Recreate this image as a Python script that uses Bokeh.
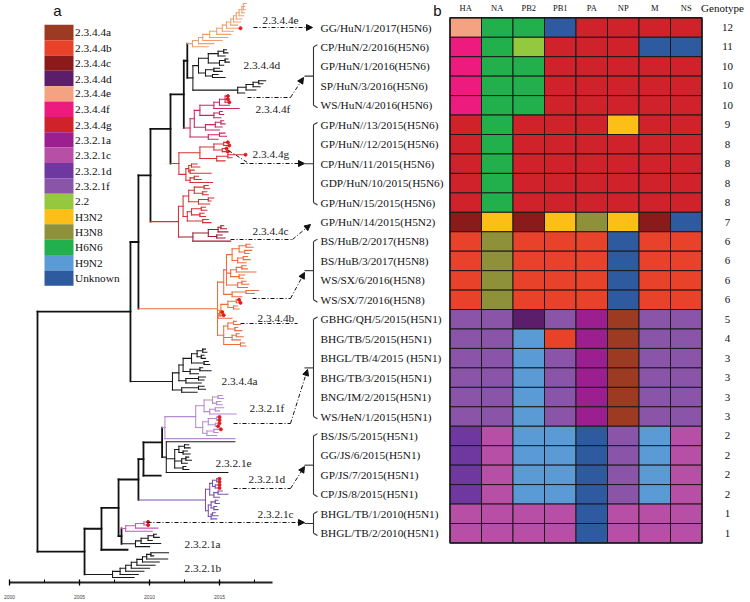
from bokeh.plotting import figure
from bokeh.models import Range1d, LinearAxis, FixedTicker, Arrow, NormalHead, ColumnDataSource
from bokeh.core.properties import value
from bokeh.embed import file_html
from bokeh.resources import INLINE

# ---------------- DATA ----------------
lineages = ["2.3.4.4a", "2.3.4.4b", "2.3.4.4c", "2.3.4.4d", "2.3.4.4e", "2.3.4.4f", "2.3.4.4g",
            "2.3.2.1a", "2.3.2.1c", "2.3.2.1d", "2.3.2.1f", "2.2", "H3N2", "H3N8", "H6N6", "H9N2", "Unknown"]
lineage_colors = ["#9c3b22", "#e8432a", "#8b1a1a", "#5c1e6b", "#f5a283", "#ec1b7d", "#d0222a",
                  "#9b1f8f", "#b84fa6", "#6f37a0", "#8a55a8", "#94c83e", "#fcbf18", "#8e903a",
                  "#21b04c", "#5b9bd5", "#2e5aa0"]

segments = ["HA", "NA", "PB2", "PB1", "PA", "NP", "M", "NS"]

strains = ["GG/HuN/1/2017(H5N6)", "CP/HuN/2/2016(H5N6)", "GP/HuN/1/2016(H5N6)", "SP/HuN/3/2016(H5N6)",
           "WS/HuN/4/2016(H5N6)", "GP/HuN//13/2015(H5N6)", "GP/HuN//12/2015(H5N6)", "CP/HuN/11/2015(H5N6)",
           "GDP/HuN/10/2015(H5N6)", "GP/HuN/15/2015(H5N6)", "GP/HuN/14/2015(H5N2)", "BS/HuB/2/2017(H5N8)",
           "BS/HuB/3/2017(H5N8)", "WS/SX/6/2016(H5N8)", "WS/SX/7/2016(H5N8)", "GBHG/QH/5/2015(H5N1)",
           "BHG/TB/5/2015(H5N1)", "BHGL/TB/4/2015 (H5N1)", "BHG/TB/3/2015(H5N1)", "BNG/IM/2/2015(H5N1)",
           "WS/HeN/1/2015(H5N1)", "BS/JS/5/2015(H5N1)", "GG/JS/6/2015(H5N1)", "GP/JS/7/2015(H5N1)",
           "CP/JS/8/2015(H5N1)", "BHGL/TB/1/2010(H5N1)", "BHGL/TB/2/2010(H5N1)"]

genotypes = [12, 11, 10, 10, 10, 9, 8, 8, 8, 8, 7, 6, 6, 6, 6, 5, 4, 3, 3, 3, 3, 2, 2, 2, 2, 1, 1]

g4a, g4b, g4c, g4d, g4e, g4f, g4g = "2.3.4.4a", "2.3.4.4b", "2.3.4.4c", "2.3.4.4d", "2.3.4.4e", "2.3.4.4f", "2.3.4.4g"
g1a, g1c, g1d, g1f = "2.3.2.1a", "2.3.2.1c", "2.3.2.1d", "2.3.2.1f"
genotype_cells = [
    [g4e, "H6N6", "H6N6", "Unknown", g4g, g4g, g4g, g4g],
    [g4f, "H6N6", "2.2", g4g, g4g, g4g, "Unknown", "Unknown"],
    [g4f, "H6N6", "H6N6", g4g, g4g, g4g, g4g, g4g],
    [g4f, "H6N6", "H6N6", g4g, g4g, g4g, g4g, g4g],
    [g4f, "H6N6", "H6N6", g4g, g4g, g4g, g4g, g4g],
    [g4g, "H6N6", g4g, g4g, g4g, "H3N2", g4g, g4g],
    [g4g, "H6N6", g4g, g4g, g4g, g4g, g4g, g4g],
    [g4g, "H6N6", g4g, g4g, g4g, g4g, g4g, g4g],
    [g4g, "H6N6", g4g, g4g, g4g, g4g, g4g, g4g],
    [g4g, "H6N6", g4g, g4g, g4g, g4g, g4g, g4g],
    [g4c, "H3N2", g4c, "H3N2", "H3N8", "H3N2", g4c, "Unknown"],
    [g4b, "H3N8", g4b, g4b, g4b, "Unknown", g4b, g4b],
    [g4b, "H3N8", g4b, g4b, g4b, "Unknown", g4b, g4b],
    [g4b, "H3N8", g4b, g4b, g4b, "Unknown", g4b, g4b],
    [g4b, "H3N8", g4b, g4b, g4b, "Unknown", g4b, g4b],
    [g1f, g1f, g4d, g1f, g1a, g4a, g1f, g1f],
    [g1f, g1f, "H9N2", g4b, g1a, g4a, g1f, g1f],
    [g1f, g1f, "H9N2", g1f, g1a, g4a, g1f, g1f],
    [g1f, g1f, "H9N2", g1f, g1a, g4a, g1f, g1f],
    [g1f, g1f, "H9N2", g1f, g1a, g4a, g1f, g1f],
    [g1f, g1f, "H9N2", g1f, g1a, g4a, g1f, g1f],
    [g1d, g1c, "H9N2", "H9N2", "Unknown", g1f, "H9N2", g1c],
    [g1d, g1c, "H9N2", "H9N2", "Unknown", g1f, "H9N2", g1c],
    [g1d, g1c, "H9N2", "H9N2", "Unknown", g1f, "H9N2", g1c],
    [g1d, g1c, "H9N2", "H9N2", "Unknown", g1f, "H9N2", g1c],
    [g1c, g1c, g1c, g1c, "Unknown", g1c, g1c, g1c],
    [g1c, g1c, g1c, g1c, "Unknown", g1c, g1c, g1c],
]

# strain groups (first row, last row) pointed to from the tree
strain_groups = [(1, 4), (5, 9), (11, 14), (15, 20), (21, 24), (25, 26)]

clade_names = ["2.3.4.4e", "2.3.4.4d", "2.3.4.4f", "2.3.4.4g", "2.3.4.4c", "2.3.4.4b", "2.3.4.4a",
               "2.3.2.1f", "2.3.2.1e", "2.3.2.1d", "2.3.2.1c", "2.3.2.1a", "2.3.2.1b"]

# Time-scaled tree: node dates as years after 2000, "*" = sequenced strain, [tag] = clade colour
T_E = ("(" * 13 + "16.9,16.8,16.85)16.7,16.8)16.6,16.7)16.4,16.6)16.2,16.5)16.0,16.3)15.8,16.5*)15.5,16.0)"
       "15.2,15.8)14.8,15.6)14.3,15.2)13.8,14.6)13.5,14.2)13.07[e]")
T_D = ("(((((15.5,15.6)15.3,15.4)14.9,((15.6,15.7)15.4,15.3)15.0)14.2,((15.0,15.2)14.6,(14.9,15.4)14.5)14.0)13.5,"
       "((((18.3,18.1)17.8,17.9)17.4,17.6)16.9,16.8)16.3)13.1[k]")
T_F = "((((((15.6*,15.6*,15.7*)15.4,15.7)15.0,16.4)14.6,((15.2,15.3)15.0,15.1)14.6)13.6,(((15.3,15.4)15.1,15.2)14.7,15.0)14.0)13.2,((15.4,15.5)15.0,14.9)14.2)12.9[f]"
T_G1 = "((((15.6*,15.7*)15.3,(15.5*,15.6*)15.2)14.6,((16.86*,15.9)15.6,15.4)14.8)13.6,(((13.4,13.6)13.0,(13.2,14.4)12.9)12.8,((13.5,13.7)13.2,14.5)12.9)12.6)12.1[g]"
T_C = "((((15.3,15.5)15.1,15.6)14.9,(15.2,15.4)14.8)14.2,15.8)13.1[c]"
T_G2 = ("(((((14.2,14.3)13.9,(14.1,14.2)13.8)13.2,((14.6,14.4)14.2,14.3)13.5)12.8,"
        "(((14.0,14.1)13.7,(13.9,14.0)13.6)13.0,(14.2,14.4)13.8)12.7)12.4," + T_C + ")12.07[g]")
T_B1 = ("(((((17.2,17.4)16.9,(17.3,17.1)16.8)16.4,((17.0,17.2)16.7,16.9)16.3)15.9,"
        "(((16.9,17.0)16.6,17.6)16.2,(16.8,16.7)16.4)15.8,((16.9,17.1)16.6,17.0)16.3)15.5,((17.8,17.5)16.9,16.6)15.9)15.3")
T_B2 = "(((16.4*,16.5*)16.2,(16.3,16.4)16.0)15.6,((15.2*,15.3*)15.0,15.9)14.9)15.1"
T_B3 = "(((16.2,16.5)16.0,(16.3,16.6)16.1)15.6,((16.4,16.7)16.2,16.5)15.9,(16.8,16.9)16.5)15.3"
T_B = "(" + T_B1 + "," + T_B2 + "," + T_B3 + ")14.86[b]"
T_A = "((((((14.0,14.1)13.8,(13.9,14.0)13.7)13.4,(14.2,14.3)13.9)13.0,((13.8,14.4)13.6,13.5)12.9)12.4,((14.0,13.9)13.5,13.7)12.6)12.1,((13.9,14.0)13.5,13.4)12.3)11.64[k]"
T_1F_core = "((((15.2,15.3)14.9,(15.1,15.2)14.8)14.5,((15.3,15.0)14.7,16.2)14.3)13.9,(((15.0*,15.0*)14.8,(15.0*,14.9*)14.7)14.2,((15.1*,14.9)14.6,14.8)14.1)13.8)13.3"
T_1F = "(" + T_1F_core + ",16.1)11.1[lf]"
T_1E = "(16.1,(((12.8,12.9)12.5,(12.7,12.9)12.4)12.1,((12.8,13.0)12.6,12.7)12.3,(12.6,12.8)12.4)11.8,15.6)11.2[k]"
T_1D = "((((15.0*,15.0*)14.8,(15.0*,15.0*)14.7)14.5,((15.2,15.6)14.9,15.0)14.6)14.3,(((14.9,15.0)14.7,(14.8,14.9)14.6)14.4,((14.7,14.9)14.5,14.8)14.4)14.2)14.0[d2]"
T_1C = "(((9.9*,9.9*)9.6,10.6)9.0,10.2)8.3[pc]"
T_1A = "((((10.5,10.7)10.3,10.2)9.9,10.8)9.4,10.0)9.0[k]"
T_1B = "(" * 8 + "11.36,10.3)10.1,11.3)9.8,10.7)9.5,10.4)9.1,10.0)8.7,9.6)8.3,9.2)7.9,8.9)7.36[k]"

T_234 = ("((((((" + T_E + "," + T_D + ")12.7," + T_F + ")12.45," + T_G1 + ")11.5," + T_G2 + ")10.07,"
         + T_B + ")9.21," + T_A + ")8.64")
T_2321 = ("((((((" + T_1F + "," + T_1E + ")10.9,10.8)9.57," + T_1D + ")9.21,(" + T_1C + "," + T_1A + ")8.0)7.79,8.43)6.57,"
          + T_1B + ")5.36")
TREE = "(" + T_234 + "," + T_2321 + ")2.0"

tree_colors = {"bb": "#111111", "k": "#1a1a1a", "e": "#f0a06e", "f": "#c8285c", "g": "#d63333",
               "c": "#9e1b30", "b": "#ec6d3e", "lf": "#b48ad0", "d2": "#7a52b0", "pc": "#c458b8"}

axis_ticks = [2000, 2005, 2010, 2015]
axis_minor = [2002.5, 2007.5, 2012.5, 2017.5]

for _name, _s in [("E", T_E), ("D", T_D), ("F", T_F), ("G1", T_G1), ("C", T_C), ("G2", T_G2), ("B1", T_B1),
                  ("B2", T_B2), ("B3", T_B3), ("A", T_A), ("1F", T_1F), ("1E", T_1E), ("1D", T_1D),
                  ("1C", T_1C), ("1A", T_1A), ("1B", T_1B), ("234", T_234), ("2321", T_2321)]:
    assert _s.count("(") == _s.count(")"), _name


# ---------------- TREE PARSING ----------------
def parse_tree(s):
    s = "".join(s.split())
    pos = 0

    def node():
        nonlocal pos
        kids = []
        if s[pos] == "(":
            pos += 1
            kids.append(node())
            while s[pos] == ",":
                pos += 1
                kids.append(node())
            assert s[pos] == ")", pos
            pos += 1
        st = pos
        while pos < len(s) and (s[pos].isdigit() or s[pos] == "."):
            pos += 1
        t = 2000 + float(s[st:pos])
        mark = False
        if pos < len(s) and s[pos] == "*":
            mark = True
            pos += 1
        tag = None
        if pos < len(s) and s[pos] == "[":
            e = s.index("]", pos)
            tag = s[pos + 1:e]
            pos = e + 1
        return {"t": t, "kids": kids, "mark": mark, "tag": tag}

    root = node()
    assert pos == len(s)
    return root


root = parse_tree(TREE)
tips = []


def assign(n, col):
    c = n["tag"] or col
    n["col"] = c
    if not n["kids"]:
        n["y"] = len(tips)
        tips.append(n)
    else:
        for k in n["kids"]:
            assign(k, c)
        n["y"] = (n["kids"][0]["y"] + n["kids"][-1]["y"]) / 2


assign(root, "bb")

seg = dict(x0=[], y0=[], x1=[], y1=[], color=[], w=[])


def add_seg(x0, y0, x1, y1, c):
    seg["x0"].append(x0); seg["y0"].append(y0); seg["x1"].append(x1); seg["y1"].append(y1)
    seg["color"].append(tree_colors[c]); seg["w"].append(1.8 if c == "bb" else 1.05)


def collect(n, pt):
    if pt is not None:
        add_seg(pt, n["y"], n["t"], n["y"], n["col"])
    if n["kids"]:
        add_seg(n["t"], n["kids"][0]["y"], n["t"], n["kids"][-1]["y"], n["col"])
        for k in n["kids"]:
            collect(k, n["t"])


collect(root, None)
marks = [(n["t"], n["y"]) for n in tips if n["mark"]]

# ---------------- LAYOUT (reference pixel space: frame = 750 x 582, axis strip below) ----------------
W, H = 750, 602
FRAME_H = 582
p = figure(width=W, height=H, x_range=Range1d(0, W), y_range=Range1d(FRAME_H, 0),
           output_backend="svg", toolbar_location=None, x_axis_type=None, y_axis_type=None,
           min_border_left=0, min_border_right=0, min_border_top=0, min_border_bottom=H - FRAME_H,
           outline_line_color=None, background_fill_color="white")

yr0_px, yr_px = 9.0, 14.0
ntip = len(tips)
tip_top, tip_bot = 3.0, 577.0
tip_s = (tip_bot - tip_top) / (ntip - 1)
col0_px, col_w = 449.5, 31.5
row0_px, row_h = 17.3, 19.45
leg0_px, leg_h = 24.3, 15.35

p.extra_x_ranges = {
    "year": Range1d(2000 - yr0_px / yr_px, 2000 + (W - yr0_px) / yr_px),
    "cols": Range1d(-col0_px / col_w, (W - col0_px) / col_w),
}
p.extra_y_ranges = {
    "tip": Range1d((FRAME_H - tip_top) / tip_s, -tip_top / tip_s),
    "rows": Range1d((FRAME_H - row0_px) / row_h, -row0_px / row_h),
    "leg": Range1d((FRAME_H - leg0_px) / leg_h, -leg0_px / leg_h),
}

serif = value("Liberation Serif")
sans = value("Liberation Sans")

# time axis
ax = LinearAxis(x_range_name="year", ticker=FixedTicker(ticks=axis_ticks, minor_ticks=axis_minor),
                bounds=(2000, 2018.8), axis_line_width=2.2, axis_line_color="#222",
                major_tick_in=3, major_tick_out=3, major_tick_line_width=1.3,
                minor_tick_in=3, minor_tick_out=0, minor_tick_line_width=1,
                major_label_text_font_size="5px", major_label_text_font="Liberation Sans",
                major_label_text_color="#444", major_label_standoff=9)
p.add_layout(ax, "below")

# tree
p.segment(x0="x0", y0="y0", x1="x1", y1="y1", line_color="color", line_width="w", line_cap="square",
          source=ColumnDataSource(seg), x_range_name="year", y_range_name="tip")
p.scatter(x=[m[0] for m in marks], y=[m[1] for m in marks], size=3, color="#e31a1c",
          x_range_name="year", y_range_name="tip")

# legend
p.quad(left=44, right=73, top=list(range(len(lineages))), bottom=[k + 1 for k in range(len(lineages))],
       fill_color=lineage_colors, line_color=None, y_range_name="leg")
p.text(x=74.5, y=[k + 0.5 for k in range(len(lineages))], text=lineages, y_range_name="leg",
       text_font=serif, text_font_size="11.3px", text_baseline="middle", text_align="left", text_color="#111")

# heatmap
cmap = dict(zip(lineages, lineage_colors))
hx, hy, hc = [], [], []
for r, row in enumerate(genotype_cells):
    for c, lin in enumerate(row):
        hx.append(c + 0.5); hy.append(r + 0.5); hc.append(cmap[lin])
p.rect(x=hx, y=hy, width=1, height=1, fill_color=hc, line_color="#1a1a1a", line_width=1,
       x_range_name="cols", y_range_name="rows")
p.rect(x=[len(segments) / 2], y=[len(strains) / 2], width=len(segments), height=len(strains),
       fill_color=None, line_color="#1a1a1a", line_width=1.5, x_range_name="cols", y_range_name="rows")
p.text(x=[c + 0.5 for c in range(len(segments))], y=7, text=segments, x_range_name="cols",
       text_font=serif, text_font_size="8.5px", text_baseline="middle", text_align="center", text_color="#111")
p.text(x=[722], y=[7], text=["Genotype"], text_font=serif, text_font_size="11px",
       text_baseline="middle", text_align="center", text_color="#111")
p.text(x=727, y=[r + 0.5 for r in range(len(strains))], text=[str(g) for g in genotypes], y_range_name="rows",
       text_font=serif, text_font_size="11px", text_baseline="middle", text_align="center", text_color="#111")

# strain labels
p.text(x=320, y=[r + 0.5 for r in range(len(strains))], text=strains, y_range_name="rows",
       text_font=serif, text_font_size="11.3px", text_baseline="middle", text_align="left", text_color="#111")

# brackets
bx0, by0, bx1, by1 = [], [], [], []
for a, b in strain_groups:
    ya, yb, ym = a + 0.5, b + 0.5, (a + b) / 2 + 0.5
    for (x0, y0, x1, y1) in [(313, ya, 313, yb), (313, ya, 317, ya - 0.12), (313, yb, 317, yb + 0.12), (304, ym, 313, ym)]:
        bx0.append(x0); by0.append(y0); bx1.append(x1); by1.append(y1)
p.segment(x0=bx0, y0=by0, x1=bx1, y1=by1, line_color="#333", line_width=1.1, y_range_name="rows")

# clade labels and dashed leaders
label_pos = [(262, 20), (243, 64), (255, 108), (252, 153), (252, 230), (257, 317), (221, 380),
             (249, 407), (215, 463), (248, 478), (257, 513), (184, 543), (184, 567)]
p.text(x=[q[0] for q in label_pos], y=[q[1] for q in label_pos], text=clade_names,
       text_font=serif, text_font_size="11.3px", text_baseline="middle", text_align="left", text_color="#222")

dash = "4 2 1 2"
leaders = [[(247, 97), (290, 97)], [(228, 150), (247, 162)], [(230, 239), (292, 239)],
           [(252, 298), (290, 298)], [(240, 323), (297, 323)], [(233, 423), (290, 423)],
           [(233, 488), (290, 488)]]
p.multi_line(xs=[[a[0] for a in l] for l in leaders], ys=[[a[1] for a in l] for l in leaders],
             line_color="#111", line_width=1, line_dash=dash)
arrows = [((253, 27), (312, 27)), ((290, 97), (303, 77)), ((240, 163), (304, 163)), ((292, 239), (310, 224)),
          ((290, 298), (304, 272)), ((290, 423), (307, 369)), ((290, 488), (304, 466)), ((147, 522), (304, 522))]
for (s0, s1) in arrows:
    p.add_layout(Arrow(end=NormalHead(size=6, fill_color="#111", line_color="#111", line_width=1),
                       x_start=s0[0], y_start=s0[1], x_end=s1[0], y_end=s1[1],
                       line_color="#111", line_width=1, line_dash=dash))

# panel letters
p.text(x=[57, 437], y=[10, 10], text=["a", "b"], text_font=sans, text_font_size="15px",
       text_baseline="middle", text_align="center", text_color="#111")

open("out.html", "w").write(file_html(p, INLINE))
